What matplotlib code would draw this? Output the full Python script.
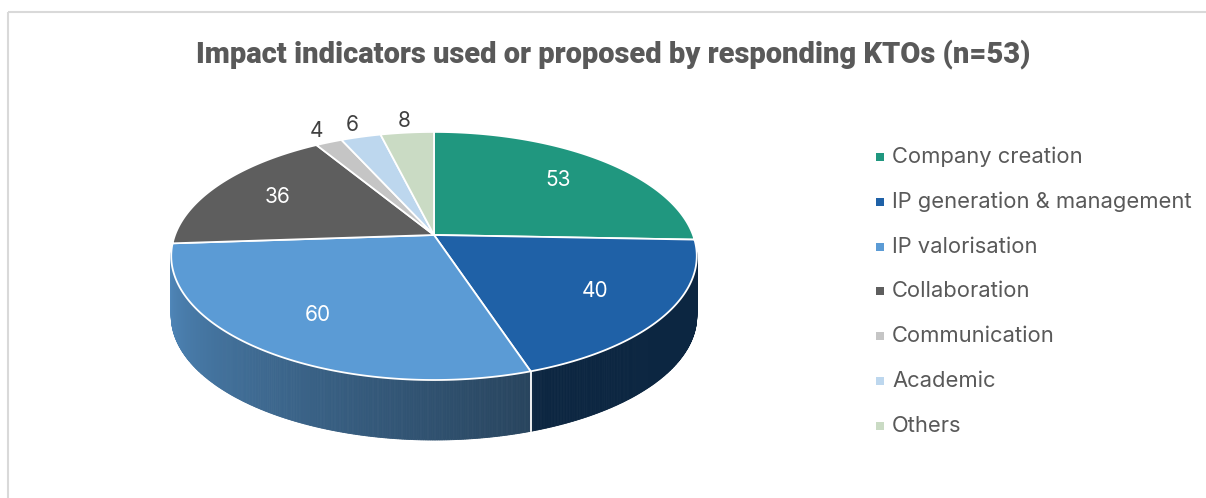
import numpy as np
import matplotlib.pyplot as plt
from matplotlib.patches import Polygon

# data
categories = ['Company creation', 'IP generation & management', 'IP valorisation',
              'Collaboration', 'Communication', 'Academic', 'Others']
values = [53, 40, 60, 36, 4, 6, 8]
title = 'Impact indicators used or proposed by responding KTOs (n=53)'

# style
top_colors = ['#20977f', '#1f61a7', '#5b9bd5', '#5e5e5e', '#c5c5c5', '#bdd7ee', '#cadbc4']
side_shade = [(0.40, 0.40), (0.39, 0.39), (0.88, 0.44), (0.75, 0.75),
              (0.75, 0.75), (0.75, 0.75), (0.75, 0.75)]
label_white = [True, True, True, True, False, False, False]

W, H = 1206, 498
cx, cy = 434, 235      # pie centre (pixels)
a, h, k = 259, 120.5, 0.169   # half width, half height, perspective
depth = 60

plt.rcParams['font.family'] = ['Inter', 'DejaVu Sans']

fig = plt.figure(figsize=(W / 100, H / 100), dpi=100)
ax = fig.add_axes([0, 0, 1, 1])
ax.set_xlim(0, W)
ax.set_ylim(H, 0)
ax.axis('off')


def proj(theta, r=1.0, z=0.0):
    X = r * np.cos(theta)
    Y = r * np.sin(theta)
    den = 1 + k * Y
    return cx + a * X / den, cy - h * Y / den + z


def shade(col, f):
    rgb = np.array([int(col[i:i + 2], 16) for i in (1, 3, 5)]) / 255.0
    return tuple(rgb * f)


total = float(sum(values))
spans = np.array(values) / total * 2 * np.pi
starts = np.pi / 2 - np.concatenate([[0], np.cumsum(spans)[:-1]])
ends = starts - spans

# side of the cylinder (front half only)
t_vis0 = np.pi + np.arcsin(k)
t_vis1 = 2 * np.pi - np.arcsin(k)
for i in range(len(values)):
    s = starts[i] % (2 * np.pi)
    e = s - spans[i]
    th = np.linspace(e, s, max(4, int(spans[i] * 180)))
    th_m = th % (2 * np.pi)
    v0 = max(min(th_m[0], th_m[-1]), t_vis0)
    v1 = min(max(th_m[0], th_m[-1]), t_vis1)
    for j in range(len(th) - 1):
        if np.sin(0.5 * (th[j] + th[j + 1])) > -0.8 * k:
            continue
        m = 0.5 * (th_m[j] + th_m[j + 1])
        t = 0.0 if v1 <= v0 else np.clip((m - v0) / (v1 - v0), 0, 1)
        f = side_shade[i][0] + (side_shade[i][1] - side_shade[i][0]) * t
        c = shade(top_colors[i], f)
        x0, y0 = proj(th[j])
        x1, y1 = proj(th[j + 1])
        ax.add_patch(Polygon([(x0, y0), (x1, y1), (x1, y1 + depth), (x0, y0 + depth)],
                             closed=True, fc=c, ec=c, lw=0.6, zorder=1))

# white separators on the side
for b in starts:
    if np.sin(b) < -k:
        x0, y0 = proj(b)
        ax.plot([x0, x0], [y0, y0 + depth], color='white', lw=1.3, zorder=2)

# top surface
for i in range(len(values)):
    th = np.linspace(starts[i], ends[i], max(8, int(spans[i] * 120)))
    pts = [(cx, cy)] + [proj(t) for t in th]
    ax.add_patch(Polygon(pts, closed=True, fc=top_colors[i], ec='white',
                         lw=1.3, joinstyle='round', zorder=3))

# data labels
for i, v in enumerate(values):
    mid = starts[i] - spans[i] / 2
    if label_white[i]:
        x, y = proj(mid, 0.72)
        ax.text(x, y, str(v), color='white', fontsize=15, ha='center', va='center', zorder=4)
    else:
        x, y = proj(mid, 1.14)
        ax.text(x, y, str(v), color='#404040', fontsize=15, ha='center', va='center', zorder=4)

# title
ax.text(613, 54, title, ha='center', va='center', fontsize=21, fontweight='heavy',
        color='#595959', family=['Roboto', 'DejaVu Sans'])

# legend
for i, lab in enumerate(categories):
    y = 157 + 44.8 * i
    ax.add_patch(plt.Rectangle((876, y - 4), 8, 8, fc=top_colors[i], ec='none'))
    ax.text(892, y, lab, ha='left', va='center', fontsize=15.8, color='#595959')

# frame
ax.plot([8, W], [12, 12], color='#d9d9d9', lw=1.5, solid_capstyle='butt')
ax.plot([8, 8], [12, H], color='#d9d9d9', lw=1.5, solid_capstyle='butt')

fig.savefig('out.png', dpi=100)
